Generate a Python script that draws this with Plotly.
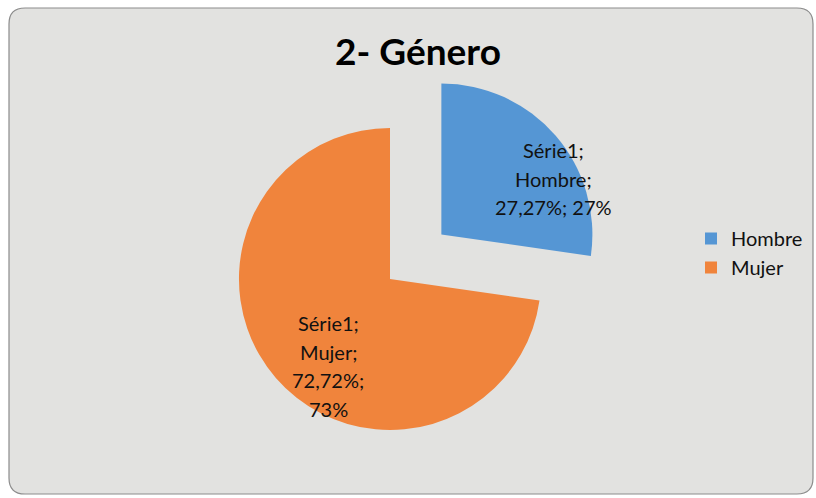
import plotly.graph_objects as go

# data
labels = ["Hombre", "Mujer"]
values = [27.27, 72.72]
series_name = "Série1"
pct_text = ["27,27%; 27%", "72,72%;<br>73%"]
colors = ["#5596d4", "#f0843c"]

W, H = 816, 498
FONT = "Lato"


def px(x):
    # window pixel x -> paper fraction
    return x / W


def py(y):
    # window pixel y -> paper fraction
    return 1 - y / H


fig = go.Figure()

# pie centre at about (390, 279), radius ~151
cx, cy, half = 390, 279, 219
fig.add_trace(go.Pie(
    labels=labels,
    values=values,
    sort=False,
    direction="clockwise",
    rotation=0,
    pull=[0.45, 0],
    marker=dict(colors=colors, line=dict(width=0)),
    textinfo="none",
    hoverinfo="label+percent",
    domain=dict(x=[px(cx - half), px(cx + half)], y=[py(cy + half), py(cy - half)]),
))

# data labels, one line each so line spacing matches the original
label_pos = {
    "Hombre": (553, 150),
    "Mujer": (328, 323),
}
annotations = []
for lab, txt in zip(labels, pct_text):
    lines = [series_name + ";", lab + ";"] + txt.split("<br>")
    x0, y0 = label_pos[lab]
    for i, line in enumerate(lines):
        annotations.append(dict(
            x=px(x0), y=py(y0 + i * 28.5),
            xref="paper", yref="paper",
            text=line, showarrow=False,
            xanchor="center", yanchor="middle",
            font=dict(family=FONT, size=20, color="#111111"),
        ))

# rounded chart frame
x1, y1, x2, y2, rr = 9, 8, 813, 494, 16
path = (
    f"M {px(x1 + rr)},{py(y1)} L {px(x2 - rr)},{py(y1)} "
    f"Q {px(x2)},{py(y1)} {px(x2)},{py(y1 + rr)} "
    f"L {px(x2)},{py(y2 - rr)} Q {px(x2)},{py(y2)} {px(x2 - rr)},{py(y2)} "
    f"L {px(x1 + rr)},{py(y2)} Q {px(x1)},{py(y2)} {px(x1)},{py(y2 - rr)} "
    f"L {px(x1)},{py(y1 + rr)} Q {px(x1)},{py(y1)} {px(x1 + rr)},{py(y1)} Z"
)

fig.update_layout(
    width=W,
    height=H,
    margin=dict(l=0, r=0, t=0, b=0),
    paper_bgcolor="white",
    plot_bgcolor="white",
    title=dict(
        text="<b>2- Género</b>",
        x=px(418), xanchor="center",
        y=py(52), yanchor="middle",
        font=dict(family=FONT, size=37, color="#000000"),
    ),
    legend=dict(
        x=px(691), xanchor="left",
        y=py(253), yanchor="middle",
        font=dict(family=FONT, size=20, color="#111111"),
        bgcolor="rgba(0,0,0,0)",
    ),
    shapes=[dict(
        type="path", path=path, xref="paper", yref="paper",
        fillcolor="#e2e2e0", line=dict(color="#8c8c8c", width=1.2),
        layer="below",
    )],
    annotations=annotations,
)

# drop the default page margin so the figure sits in the window corner
fig.write_html(
    "out.html",
    config={"displayModeBar": False},
    post_script="document.body.style.margin='0';document.body.style.overflow='hidden';",
)
